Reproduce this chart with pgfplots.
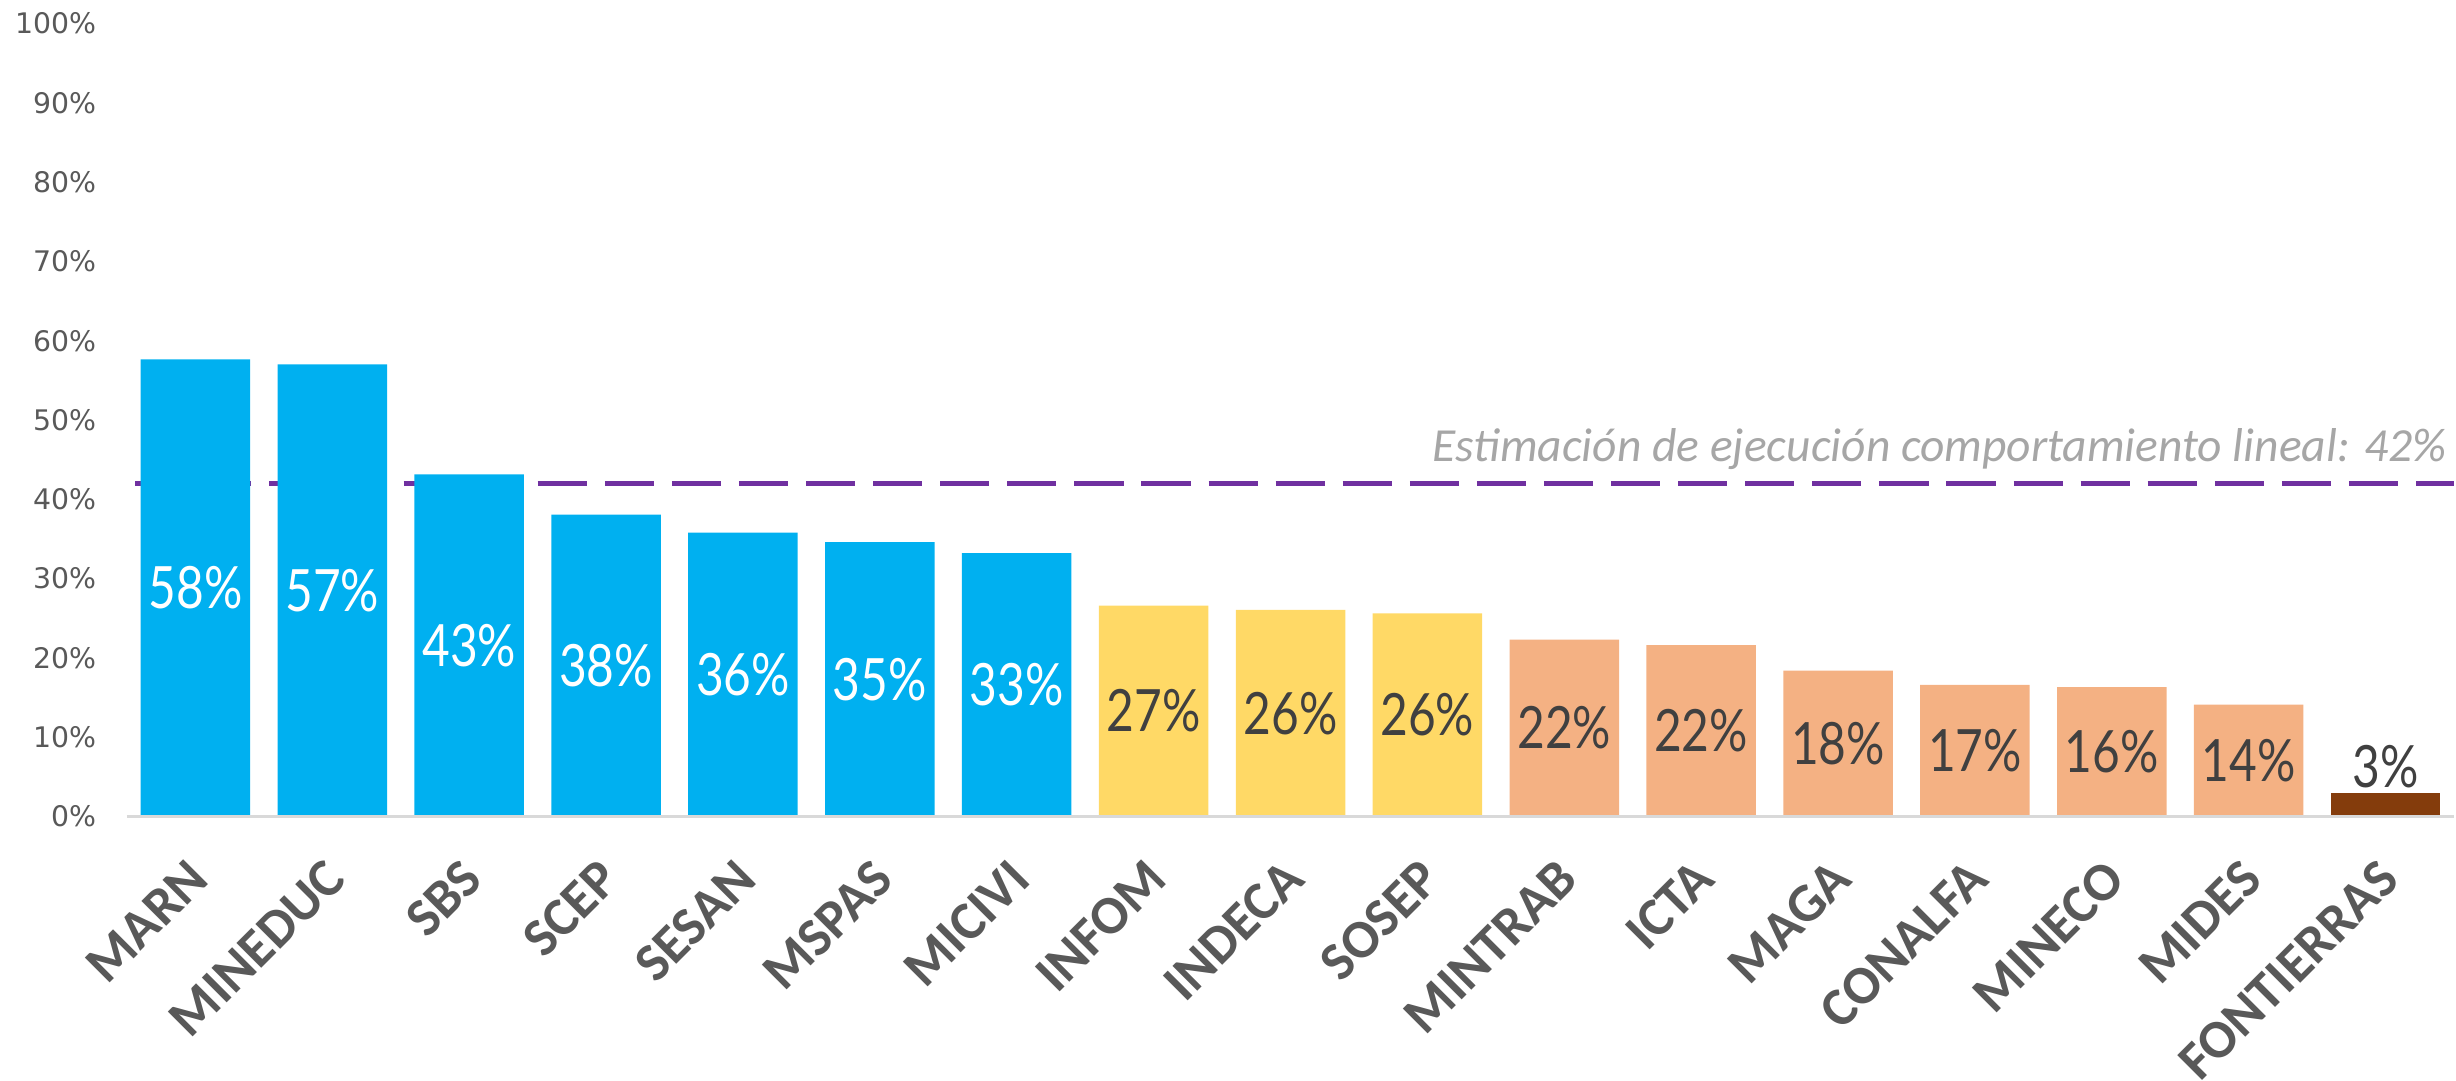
\documentclass[border=0pt]{standalone}
\usepackage{pgfplots}
\pgfplotsset{compat=1.18}
\usepackage{pgfplotstable}
\usepackage{fontspec}
\setmainfont{Carlito}
\newfontfamily\tickfont{DejaVu Sans}
\newfontfamily\lblfont[FakeStretch=0.82]{Lato}
\definecolor{cblue}{HTML}{00B0F0}
\definecolor{cyellow}{HTML}{FFD966}
\definecolor{corange}{HTML}{F4B183}
\definecolor{cbrown}{HTML}{843C0C}
\definecolor{cpurple}{HTML}{7030A0}
\definecolor{tgray}{HTML}{595959}
\definecolor{dgray}{HTML}{404040}
\definecolor{agray}{HTML}{A6A6A6}
\definecolor{bgray}{HTML}{D9D9D9}

\pgfplotstableread{
x v
0 57.65
1 57.0
2 43.15
3 38.06
4 35.8
5 34.6
6 33.2
}\blue
\pgfplotstableread{
x v
7 26.6
8 26.05
9 25.6
}\yellow
\pgfplotstableread{
x v
10 22.3
11 21.6
12 18.4
13 16.6
14 16.3
15 14.1
}\orange
\pgfplotstableread{
x v
16 2.9
}\brown

\begin{document}
\begin{tikzpicture}
\path[use as bounding box] (0,0) rectangle (589.44pt,259.44pt);
\begin{axis}[
  at={(30.48pt,63.48pt)}, anchor=south west,
  scale only axis, width=558.48pt, height=190.32pt,
  xmin=-0.5, xmax=16.5, ymin=0, ymax=100,
  axis line style={draw=none},
  major tick length=0pt,
  xtick={0,...,16},
  xticklabels={MARN,MINEDUC,SBS,SCEP,SESAN,MSPAS,MICIVI,INFOM,INDECA,SOSEP,MINTRAB,ICTA,MAGA,CONALFA,MINECO,MIDES,FONTIERRAS},
  xticklabel style={font=\fontsize{13}{15}\selectfont\bfseries, text=tgray, rotate=45, anchor=north east, inner sep=0pt, xshift=-8.3pt, yshift=-5.1pt},
  ytick={0,10,...,100},
  yticklabel={\pgfmathprintnumber{\tick}\%},
  yticklabel style={font=\tickfont\fontsize{6.8}{8}\selectfont, text=tgray, inner sep=0pt, xshift=-7.2pt},
  /pgf/number format/assume math mode=true,
  clip=false,
  lbl/.style={draw=none, mark=none, point meta=explicit,
    nodes near coords={\pgfmathprintnumber[fixed,precision=0]{\pgfplotspointmeta}\%},
    every node near coord/.style={anchor=center, inner sep=0pt, font=\lblfont\fontsize{14}{16}\selectfont}},
]
\addplot[draw=cpurple, line width=1.3pt, dash pattern=on 11.8pt off 4.3pt, forget plot] coordinates {(-0.44,42) (16.5,42)};

\addplot[ybar, bar width=0.8, bar shift=0pt, fill=cblue, draw=none] table[x=x,y=v]{\blue};
\addplot[ybar, bar width=0.8, bar shift=0pt, fill=cyellow, draw=none] table[x=x,y=v]{\yellow};
\addplot[ybar, bar width=0.8, bar shift=0pt, fill=corange, draw=none] table[x=x,y=v]{\orange};
\addplot[ybar, bar width=0.8, bar shift=0pt, fill=cbrown, draw=none] table[x=x,y=v]{\brown};

\draw[draw=bgray, line width=0.6pt] (axis cs:-0.5,0) -- (axis cs:16.5,0);

\addplot[lbl, nodes near coords style={text=white}] table[x=x, y expr=\thisrow{v}/2, meta=v]{\blue};
\addplot[lbl, nodes near coords style={text=dgray}] table[x=x, y expr=\thisrow{v}/2, meta=v]{\yellow};
\addplot[lbl, nodes near coords style={text=dgray}] table[x=x, y expr=\thisrow{v}/2, meta=v]{\orange};
\addplot[lbl, nodes near coords style={text=dgray, anchor=south, yshift=1pt}] table[x=x, y=v, meta=v]{\brown};

\node[anchor=base east, inner sep=0pt, text=agray, font=\itshape\fontsize{11.4}{13}\selectfont] at (axis cs:16.45,44.8) {Estimación de ejecución comportamiento lineal: 42\%};
\end{axis}
\end{tikzpicture}
\end{document}
